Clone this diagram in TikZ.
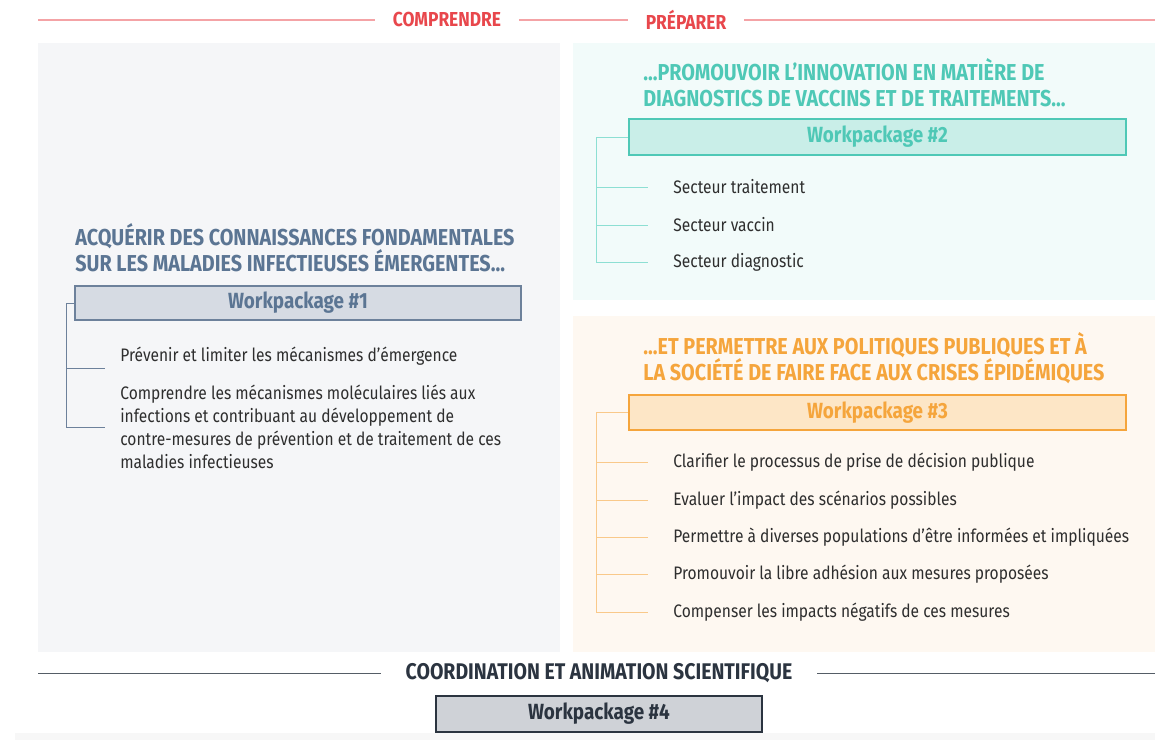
\documentclass[tikz,border=0pt]{standalone}
\usepackage{fontspec}
\setmainfont{Fira Sans}[FakeStretch=0.86]
\usepackage{tikz}

\definecolor{redtxt}{HTML}{E8474C}
\definecolor{redline}{HTML}{F4A3A6}
\definecolor{slate}{HTML}{5B7593}
\definecolor{slatefill}{HTML}{D6DBE3}
\definecolor{slateline}{HTML}{6D819B}
\definecolor{graypanel}{HTML}{F5F6F8}
\definecolor{teal}{HTML}{4FC8B6}
\definecolor{tealfill}{HTML}{C9EEE8}
\definecolor{tealline}{HTML}{8DDFD3}
\definecolor{tealpanel}{HTML}{F2FBFA}
\definecolor{orange}{HTML}{F5A53C}
\definecolor{orangefill}{HTML}{FDE6C6}
\definecolor{orangeline}{HTML}{F9C98A}
\definecolor{orangepanel}{HTML}{FEF8F1}
\definecolor{dark}{HTML}{2B3440}
\definecolor{darkfill}{HTML}{CFD2D7}
\definecolor{txt}{HTML}{2E2E2E}

\begin{document}
\begin{tikzpicture}[x=0.02cm, y=-0.02cm]
\tikzstyle{every node}=[text=txt, font=\fontsize{10.3}{13}\selectfont];
\tikzstyle{toplab}=[font=\fontsize{11.5}{13}\selectfont\bfseries, text=redtxt, inner xsep=10pt];
\tikzstyle{head}=[anchor=west, align=left, inner sep=0pt, font=\fontsize{13.1}{14.7}\selectfont\bfseries];
\tikzstyle{wp}=[draw, line width=1pt, minimum width=9.94cm, minimum height=0.71cm, font=\fontsize{12.5}{14}\selectfont\bfseries];
\tikzstyle{item}=[anchor=west, inner xsep=0.5cm];
\useasboundingbox (0,0) rectangle (1155,740);

% panels
\fill[graypanel] (38,43) rectangle (560,652);
\fill[tealpanel] (573,43) rectangle (1155,300);
\fill[orangepanel] (573,316) rectangle (1155,652);
\fill[black!3] (15,733) rectangle (1155,740);

% top labels
\node[toplab] (comp) at (447,20) {COMPRENDRE};
\node[toplab] (prep) at (686,20) {PRÉPARER};
\coordinate (r0) at (38,20);
\coordinate (r1) at (1155,20);
\draw[redline, line width=1pt] (r0) -- (comp.west)
  (comp.east) -- (prep.west)
  (prep.east) -- (r1);

% workpackage 1
\node[head, text=slate] (h1) at (75,248) {ACQUÉRIR DES CONNAISSANCES FONDAMENTALES\\SUR LES MALADIES INFECTIEUSES ÉMERGENTES...};
\node[wp, draw=slateline, fill=slatefill, text=slate, minimum width=8.92cm, minimum height=0.68cm] (wp1) at (298,303) {Workpackage \#1};
\node[anchor=west, inner xsep=0.3cm, inner ysep=2pt, text height=7pt, text depth=2pt] (t1) at (105,357) {Prévenir et limiter les mécanismes d’émergence};
\node[anchor=west, inner xsep=0.3cm, align=left] (t2) at (105,427) {Comprendre les mécanismes moléculaires liés aux\\infections et contribuant au développement de\\contre-mesures de prévention et de traitement de ces\\maladies infectieuses};
\coordinate (b1) at (66,303);
\draw[slateline] (wp1.west) -- (b1) |- (t2.west)
  (b1) |- (t1.south west);

% workpackage 2
\node[head, text=teal] (h2) at (643,83) {...PROMOUVOIR L’INNOVATION EN MATIÈRE DE\\DIAGNOSTICS DE VACCINS ET DE TRAITEMENTS...};
\node[wp, draw=teal, fill=tealfill, text=teal] (wp2) at (877.5,137) {Workpackage \#2};
\node[item] (s1) at (648,187) {Secteur traitement};
\node[item] (s2) at (648,225) {Secteur vaccin};
\node[item] (s3) at (648,262) {Secteur diagnostic};
\coordinate (b2) at (596,137);
\draw[tealline] (wp2.west) -- (b2) |- (s3.west);
\foreach \i in {1,2}
  \draw[tealline] (b2 |- s\i.west) -- (s\i.west);

% workpackage 3
\node[head, text=orange] (h3) at (643,358) {...ET PERMETTRE AUX POLITIQUES PUBLIQUES ET À\\LA SOCIÉTÉ DE FAIRE FACE AUX CRISES ÉPIDÉMIQUES};
\node[wp, draw=orange, fill=orangefill, text=orange, minimum height=0.7cm] (wp3) at (877.5,412.5) {Workpackage \#3};
\node[item] (p1) at (648,462) {Clarifier le processus de prise de décision publique};
\node[item] (p2) at (648,500) {Evaluer l’impact des scénarios possibles};
\node[item] (p3) at (648,537) {Permettre à diverses populations d’être informées et impliquées};
\node[item] (p4) at (648,574.5) {Promouvoir la libre adhésion aux mesures proposées};
\node[item] (p5) at (648,612) {Compenser les impacts négatifs de ces mesures};
\coordinate (b3) at (596,412.5);
\draw[orangeline] (wp3.west) -- (b3) |- (p5.west);
\foreach \i in {1,...,4}
  \draw[orangeline] (b3 |- p\i.west) -- (p\i.west);

% workpackage 4
\node[font=\fontsize{12.9}{14}\selectfont\bfseries, text=dark, inner xsep=14pt] (coord) at (599,673) {COORDINATION ET ANIMATION SCIENTIFIQUE};
\coordinate (k0) at (38,673);
\coordinate (k1) at (1155,673);
\draw[dark!80] (k0) -- (coord.west) (coord.east) -- (k1);
\node[wp, draw=dark, fill=darkfill, text=dark, line width=1.5pt, minimum width=6.52cm, minimum height=0.72cm] (wp4) at (599,714) {Workpackage \#4};
\end{tikzpicture}
\end{document}
